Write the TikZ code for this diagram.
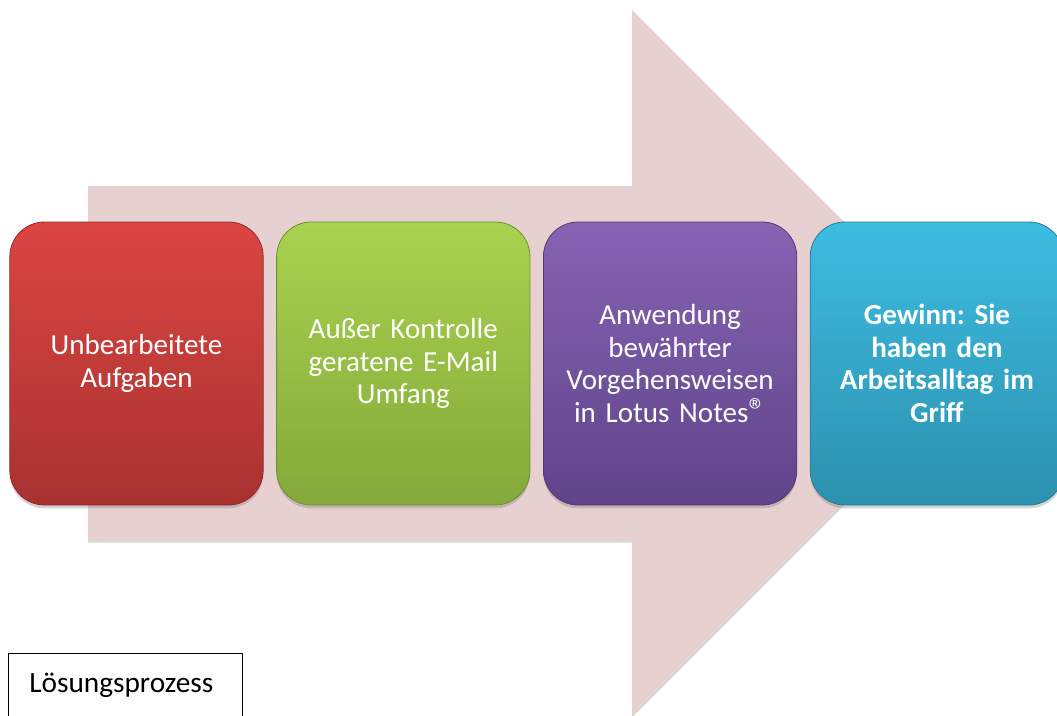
\documentclass[tikz,border=0pt]{standalone}
\usepackage{fontspec}
\setmainfont{Carlito}[WordSpace=0.75]
\usetikzlibrary{positioning,shadows}
\definecolor{arrowpink}{HTML}{E6D0D0}
\definecolor{redtop}{HTML}{DB4542}
\definecolor{redbot}{HTML}{A83230}
\definecolor{greentop}{HTML}{A9D24F}
\definecolor{greenbot}{HTML}{84A939}
\definecolor{violettop}{HTML}{8663B3}
\definecolor{violetbot}{HTML}{5F448A}
\definecolor{tealtop}{HTML}{3DBCE1}
\definecolor{tealbot}{HTML}{2C91AE}
\newcommand{\regmark}{{\fontsize{26}{26}\selectfont ®}}
\tikzset{
  stage/.style = {
    rounded corners=26pt,
    minimum width=190pt, minimum height=212.25pt,
    text width=180pt, inner sep=4pt, align=center,
    text=white, font=\fontsize{21.8}{24.5}\selectfont\frenchspacing,
    line width=0.6pt,
    drop shadow={shadow xshift=0pt, shadow yshift=-2.5pt, opacity=0.35}
  },
  stagecolors/.style 2 args = {top color=#1, bottom color=#2, draw=#2!85!black}
}

\begin{document}
\begin{tikzpicture}[x=0.75pt,y=-0.75pt]
  \clip (0,0) rectangle (1057,715);
  \useasboundingbox (0,0) rectangle (1057,715);
  % big arrow behind the stages
  \coordinate (tail) at (88,186);
  \coordinate (tip) at (984.5,362.5);
  \fill[arrowpink,
        drop shadow={shadow xshift=0pt, shadow yshift=-2pt, opacity=0.3}]
    (tail) -- (632,186) -- (632,10) -- (tip) -- (632,715)
    -- (632,540) -- (88,540) -- cycle;
  % stages
  \node[stage,stagecolors={redtop}{redbot}] (open) at (136.5,363.5)
    {Unbearbeitete\\Aufgaben};
  \node[stage,stagecolors={greentop}{greenbot},right=9.5pt of open] (mail)
    {Außer Kontrolle\\geratene E-Mail\\Umfang};
  \node[stage,stagecolors={violettop}{violetbot},right=9.5pt of mail] (notes)
    {Anwendung\\bewährter\\Vorgehensweisen\\in Lotus Notes\regmark};
  \node[stage,stagecolors={tealtop}{tealbot},right=9.5pt of notes,
        font=\fontsize{21.8}{24.5}\selectfont\frenchspacing\bfseries] (gain)
    {Gewinn: Sie\\haben den\\Arbeitsalltag im\\Griff};
  % caption box
  \node[draw,anchor=north west,minimum width=175.5pt,
        text width=144pt,align=left,inner xsep=15.75pt,inner ysep=7.25pt,
        text height=22pt,text depth=40pt,
        font=\fontsize{22}{26}\selectfont] (process) at (8,653)
    {Lösungsprozess};
\end{tikzpicture}
\end{document}
